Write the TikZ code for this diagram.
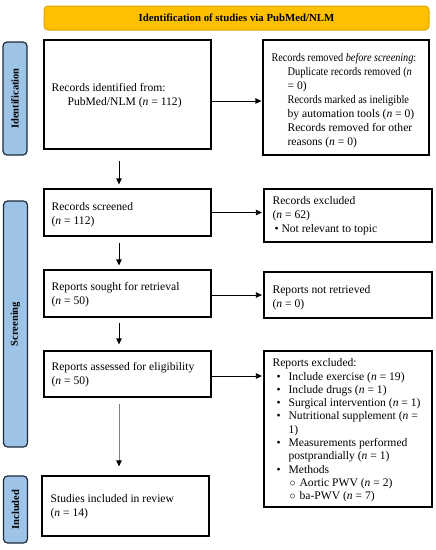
\documentclass[tikz,border=0pt]{standalone}
\usepackage{fontspec}
\setmainfont{Liberation Serif}
\usetikzlibrary{arrows.meta}
\definecolor{gold}{HTML}{FFC000}
\definecolor{goldedge}{HTML}{DDA500}
\definecolor{sideblue}{HTML}{9DC3E6}
\definecolor{sideedge}{HTML}{1F2A3A}
\tikzset{
  box/.style={draw=black, line width=1.2pt, inner sep=0pt},
  txt/.style={font=\fontsize{11.6}{14}\selectfont, align=left, inner sep=0pt, anchor=west},
  side/.style={draw=sideedge, fill=sideblue, line width=1.2pt, rounded corners=4pt, inner sep=0pt,
    rotate=90, minimum height=24pt, font=\bfseries\fontsize{10.5}{12}\selectfont},
  arr/.style={line width=0.8pt, -{Triangle[length=6pt,width=5.5pt]}},
}
\newcommand{\nn}{\textit{n}}
\newcommand{\bl}{\hspace*{4pt}\makebox[12pt][l]{\textbullet}}
\newcommand{\sbl}{\hspace*{17pt}\makebox[10pt][l]{$\circ$}}
\newcommand{\sq}[1]{\scalebox{0.9}[1]{#1}}
\begin{document}
\begin{tikzpicture}[x=1pt,y=-1pt]
\useasboundingbox (0,0) rectangle (436,550);
% banner
\node[draw=goldedge, fill=gold, line width=1pt, rounded corners=4pt, minimum width=385pt,
  minimum height=24pt, font=\bfseries\fontsize{10.8}{12}\selectfont] (banner) at (236.5,18)
  {Identification of studies via PubMed/NLM};
% side labels
\node[side, minimum width=113pt] (sid) at (15,98.5) {Identification};
\node[side, minimum width=246pt] (sscr) at (15.5,324) {Screening};
\node[side, minimum width=67pt] (sinc) at (15.5,509.5) {Included};
% boxes
\node[box, minimum width=167pt, minimum height=109pt] (b1) at (127.5,94.5) {};
\node[box, minimum width=166pt, minimum height=115pt] (b2) at (346,97.5) {};
\node[box, minimum width=167pt, minimum height=47pt] (b3) at (127.5,212.5) {};
\node[box, minimum width=168pt, minimum height=53pt] (b4) at (348,215.5) {};
\node[box, minimum width=167pt, minimum height=47pt] (b5) at (127.5,293.5) {};
\node[box, minimum width=168pt, minimum height=46pt] (b6) at (348,295) {};
\node[box, minimum width=167pt, minimum height=46pt] (b7) at (127.5,374) {};
\node[box, minimum width=168pt, minimum height=156pt] (b8) at (348,429) {};
\node[box, minimum width=167pt, minimum height=60pt] (b9) at (125.5,506) {};
% texts
\node[txt] (t1) at ([xshift=8pt,yshift=-1.5pt]b1.west)
  {Records identified from:\\\hspace*{16pt}PubMed/NLM (\nn{} = 112)};
\node[txt] (t2) at ([xshift=9pt,yshift=-3.5pt]b2.west)
  {\scalebox{0.88}[1]{Records removed \textit{before screening}:}\\
   \hspace*{16pt}\sq{Duplicate records removed (\nn}\\
   \hspace*{16pt}= 0)\\
   \hspace*{16pt}\sq{Records marked as ineligible}\\
   \hspace*{16pt}by automation tools (\nn{} = 0)\\
   \hspace*{16pt}Records removed for other\\
   \hspace*{16pt}reasons (\nn{} = 0)};
\node[txt] (t3) at ([xshift=8pt,yshift=-2pt]b3.west) {Records screened\\(\nn{} = 112)};
\node[txt] (t4) at ([xshift=9pt]b4.west)
  {Records excluded\\(\nn{} = 62)\\\hspace*{2pt}\textbullet\ Not relevant to topic};
\node[txt] (t5) at ([xshift=8pt,yshift=-1pt]b5.west) {Reports sought for retrieval\\(\nn{} = 50)};
\node[txt] (t6) at ([xshift=9pt,yshift=-2.5pt]b6.west) {Reports not retrieved\\(\nn{} = 0)};
\node[txt] (t7) at ([xshift=8pt,yshift=-1pt]b7.west) {Reports assessed for eligibility\\(\nn{} = 50)};
\node[txt, font=\fontsize{11.6}{13.3}\selectfont] (t8) at ([xshift=9pt,yshift=-1.5pt]b8.west)
  {Reports excluded:\\
   \bl Include exercise (\nn{} = 19)\\
   \bl Include drugs (\nn{} = 1)\\
   \bl Surgical intervention (\nn{} = 1)\\
   \bl Nutritional supplement (\nn{} =\\
   \hspace*{16pt}1)\\
   \bl Measurements performed\\
   \hspace*{16pt}postprandially (\nn{} = 1)\\
   \bl Methods\\
   \sbl Aortic PWV (\nn{} = 2)\\
   \sbl ba-PWV (\nn{} = 7)};
\node[txt] (t9) at ([xshift=9pt,yshift=-0.5pt]b9.west) {Studies included in review\\(\nn{} = 14)};
% horizontal arrows
\path (b1.east) ++(0,6.5) coordinate (a1);
\draw[arr, shorten >=1pt] (a1) -- (a1 -| b2.west);
\draw[arr, shorten >=1.5pt] (b3.east) -- (b3.east -| b4.west);
\path (b5.east) ++(0,1.5) coordinate (a5);
\draw[arr, shorten >=1.5pt] (a5) -- (a5 -| b6.west);
\path (b7.east) ++(0,2) coordinate (a7);
\draw[arr, shorten >=1.5pt] (a7) -- (a7 -| b8.west);
% vertical arrows
\coordinate (vx) at (119,0);
\draw[arr, shorten <=11pt, shorten >=4pt] (b1.south -| vx) -- (b3.north -| vx);
\draw[arr, shorten <=6pt, shorten >=4pt] (b3.south -| vx) -- (b5.north -| vx);
\draw[arr, shorten <=5pt, shorten >=6pt] (b5.south -| vx) -- (b7.north -| vx);
\draw[line width=0.8pt, draw=gray, -{Triangle[length=6pt,width=5.5pt,color=black]},
  shorten <=6pt, shorten >=9pt] (b7.south -| vx) -- (b9.north -| vx);
\end{tikzpicture}
\end{document}
